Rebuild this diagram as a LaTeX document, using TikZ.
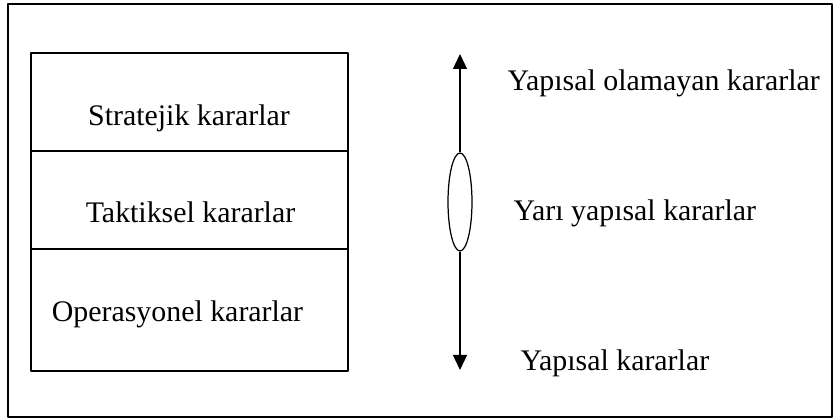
\documentclass[tikz,border=0pt]{standalone}
\usepackage{fontspec}
\setmainfont{Liberation Serif}
\usetikzlibrary{arrows.meta,shapes.geometric}
\tikzset{
  every picture/.style={line join=round, line width=0.7pt, >=Stealth},
  lbl/.style={font=\fontsize{17}{20}\selectfont, inner sep=0pt},
  tip/.style={-{Triangle[width=0.28cm,length=0.3cm]}},
}

\begin{document}
\begin{tikzpicture}
\useasboundingbox (0,0) rectangle (16.68,8.38);
\draw (0.16,0.04) rectangle (16.64,8.30);
% karar seviyeleri
\draw (0.62,0.96) rectangle (6.96,7.32);
\draw (0.62,5.36)--(6.96,5.36)
(0.62,3.40)--(6.96,3.40);
\node[lbl,anchor=base] (strat) at (3.78,5.86) {Stratejik kararlar};
\node[lbl,anchor=base] (takt) at (3.81,3.92) {Taktiksel kararlar};
\node[lbl,anchor=base] (oper) at (3.55,1.94) {Operasyonel kararlar};
% yapi ekseni
\node[ellipse,draw,minimum width=0.48cm,minimum height=1.96cm,inner sep=0pt] (yari) at (9.2,4.34) {};
\coordinate (ust) at (9.2,7.30);
\coordinate (alt) at (9.2,0.98);
\draw[tip] (yari.north)--(ust);
\draw[tip] (yari.south)--(alt);
\node[lbl,anchor=base west] (yapisiz) at (10.14,6.56) {Yapısal olamayan kararlar};
\node[lbl,anchor=base west] (yariyap) at (10.26,3.96) {Yarı yapısal kararlar};
\node[lbl,anchor=base west] (yapisal) at (10.40,0.96) {Yapısal kararlar};
\end{tikzpicture}
\end{document}
